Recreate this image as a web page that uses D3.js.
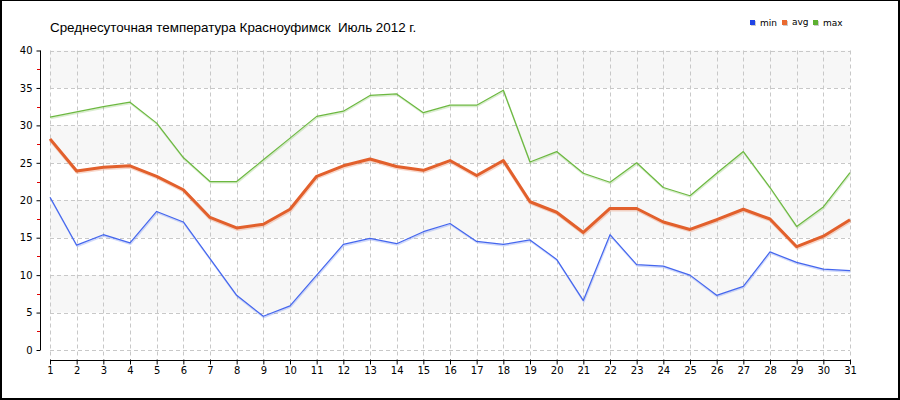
<!DOCTYPE html>
<html><head><meta charset="utf-8">
<script src="https://cdn.jsdelivr.net/npm/d3@7"></script>
<style>
body{margin:0;background:#fff;}
svg{display:block;}
</style></head>
<body>
<svg id="chart" width="900" height="400"></svg>
<script>
const title = "Среднесуточная температура Красноуфимск  Июль 2012 г.";
const days = d3.range(1, 32);
const minVals = [20.4,14.0,15.4,14.3,18.5,17.1,12.2,7.3,4.5,5.9,10.0,14.1,14.9,14.2,15.8,16.9,14.5,14.1,14.7,12.1,6.6,15.4,11.4,11.2,10.0,7.3,8.5,13.1,11.7,10.8,10.6];
const avgVals = [28.2,23.9,24.4,24.6,23.2,21.4,17.7,16.3,16.8,18.8,23.2,24.6,25.5,24.5,24.0,25.3,23.3,25.3,19.8,18.4,15.7,18.9,18.9,17.1,16.1,17.4,18.8,17.5,13.8,15.2,17.4];
const maxVals = [31.1,31.8,32.5,33.1,30.3,25.7,22.5,22.5,25.4,28.3,31.2,31.9,34.0,34.2,31.7,32.7,32.7,34.7,25.1,26.5,23.6,22.4,25.0,21.7,20.6,23.6,26.5,21.7,16.5,19.1,23.7];
const yTicks = [0,5,10,15,20,25,30,35,40];
const seriesNames = ["min","avg","max"];
const seriesColors = ["#4466ee","#e2602c","#6cb840"];
const legendColors = ["#1f44e6","#ea6a30","#5cb030"];

const svg = d3.select("#chart");
const x = d3.scaleLinear().domain([1,31]).range([50,850]);
const y = d3.scaleLinear().domain([0,40]).range([350,50.5]);

// frame
svg.append("rect").attr("x",0).attr("y",0).attr("width",900).attr("height",400).attr("fill","#fff");
svg.append("line").attr("x1",0).attr("x2",900).attr("y1",0.5).attr("y2",0.5).attr("stroke","#000");
svg.append("line").attr("x1",1).attr("x2",1).attr("y1",0).attr("y2",400).attr("stroke","#000").attr("stroke-width",2);
svg.append("line").attr("x1",899).attr("x2",899).attr("y1",0).attr("y2",400).attr("stroke","#000").attr("stroke-width",2);
svg.append("line").attr("x1",0).attr("x2",900).attr("y1",399).attr("y2",399).attr("stroke","#000").attr("stroke-width",2);

// bands
[[35,40],[25,30],[15,20],[5,10]].forEach(b=>{
  svg.append("rect").attr("x",x(1)).attr("y",y(b[1])).attr("width",x(31)-x(1))
    .attr("height",y(b[0])-y(b[1])).attr("fill","#f7f7f7");
});

// grid
const g = svg.append("g");
g.selectAll(".hg").data(yTicks).enter().append("line")
  .attr("x1",x(1)).attr("x2",x(31)).attr("y1",d=>Math.round(y(d))+0.5).attr("y2",d=>Math.round(y(d))+0.5)
  .attr("stroke","#c8c8c8").attr("stroke-dasharray","4,3");
g.selectAll(".vg").data(days).enter().append("line")
  .attr("x1",d=>Math.round(x(d))+0.5).attr("x2",d=>Math.round(x(d))+0.5).attr("y1",y(40)).attr("y2",358)
  .attr("stroke","#c8c8c8").attr("stroke-dasharray","4,3");

// y axis
const yAxis = d3.axisLeft(y).tickValues(yTicks).tickSize(4).tickFormat(d3.format("d"));
const ya = svg.append("g").attr("transform","translate(40.5,0)").call(yAxis);
ya.select(".domain").attr("stroke","#000").attr("d","M0,"+y(40)+"V"+y(0));
ya.selectAll("text").attr("font-family","Tahoma, 'DejaVu Sans', sans-serif").attr("font-size","10px").attr("fill","#000").attr("dx","-1");
// minor ticks
svg.append("g").selectAll("line").data(d3.range(2.5,40,5)).enter().append("line")
  .attr("x1",37).attr("x2",40).attr("y1",d=>Math.round(y(d))+0.5).attr("y2",d=>Math.round(y(d))+0.5)
  .attr("stroke","#e00000");

// x axis
const xAxis = d3.axisBottom(x).tickValues(days).tickSize(4).tickFormat(d3.format("d"));
const xa = svg.append("g").attr("transform","translate(0,360.5)").call(xAxis);
xa.select(".domain").attr("stroke","#000").attr("d","M"+x(1)+",0H"+x(31));
xa.selectAll(".tick line").attr("y1",-1);
xa.selectAll("text").attr("font-family","Tahoma, 'DejaVu Sans', sans-serif").attr("font-size","10px").attr("fill","#000").attr("dy","0.6em");

// lines
const data = [minVals, avgVals, maxVals];
const widths = [1.2, 3, 1.2];
const line = d3.line().x((d,i)=>x(days[i])).y(d=>y(d));
data.forEach((vals,k)=>{
  svg.append("path").datum(vals).attr("d",line).attr("fill","none")
    .attr("stroke",seriesColors[k]).attr("stroke-opacity",0.25).attr("stroke-width",widths[k]+0.5)
    .attr("transform","translate(0.5,1.2)").attr("stroke-linejoin","round");
});
data.forEach((vals,k)=>{
  svg.append("path").datum(vals).attr("d",line).attr("fill","none")
    .attr("stroke",seriesColors[k]).attr("stroke-width",widths[k]).attr("stroke-linejoin","round");
});

// title
svg.append("text").attr("x",50).attr("y",32).text(title).style("white-space","pre")
  .attr("font-family","Arial, 'Liberation Sans', sans-serif").attr("font-size","13.4px").attr("fill","#000");

// legend
const lx = [750,782,813];
seriesNames.forEach((n,k)=>{
  svg.append("rect").attr("x",lx[k]+1).attr("y",21).attr("width",5).attr("height",5).attr("fill","#ccc");
  svg.append("rect").attr("x",lx[k]).attr("y",20).attr("width",5).attr("height",5).attr("fill",legendColors[k]);
  svg.append("text").attr("x",lx[k]+10).attr("y",k===1?25:26).text(n)
    .attr("font-family","Tahoma, 'DejaVu Sans', sans-serif").attr("font-size","9px").attr("fill","#000");
});
</script>
</body></html>
